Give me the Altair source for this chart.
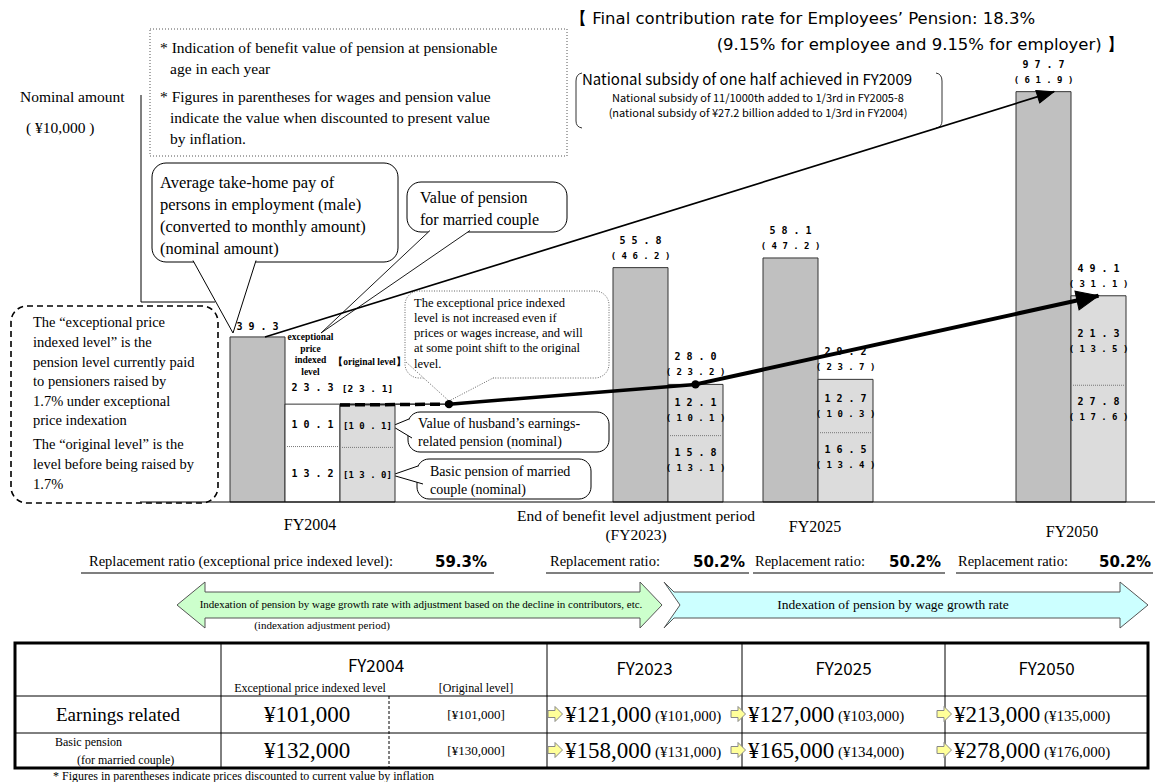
import math
import numpy as np
import altair as alt
import pandas as pd

# ---------------- data ----------------
years = [2004, 2023, 2025, 2050]
wage = [39.3, 55.8, 58.1, 97.7]            # average take-home pay (nominal, 10,000 yen)
wage_real = [None, 46.2, 47.2, 61.9]       # discounted to present value
pension = [23.3, 28.0, 29.2, 49.1]         # pension for married couple (2004 = exceptional price indexed level)
pension_real = [None, 23.2, 23.7, 31.1]
earn = [10.1, 12.1, 12.7, 21.3]            # husband's earnings-related pension
earn_real = [None, 10.1, 10.3, 13.5]
basic = [13.2, 15.8, 16.5, 27.8]           # basic pension of married couple
basic_real = [None, 13.1, 13.4, 17.6]
orig_total, orig_earn, orig_basic = 23.1, 10.1, 13.0   # FY2004 original level
ratios = [59.3, 50.2, 50.2, 50.2]
earn_yen = [101000, 121000, 127000, 213000]
earn_yen_real = [None, 101000, 103000, 135000]
basic_yen = [132000, 158000, 165000, 278000]
basic_yen_real = [None, 131000, 134000, 176000]
orig_earn_yen, orig_basic_yen = 101000, 130000

# ---------------- scales / style ----------------
X_RANGE = [230, 613, 763, 1016]
BASE_Y, TOP_Y = 502, 82
BW = 55
XS = alt.Scale(domain=years, range=X_RANGE, nice=False, zero=False)
YS = alt.Scale(domain=[0, 100], range=[BASE_Y, TOP_Y], nice=False, zero=False)
SERIF = "Liberation Serif"
GOTH = "Noto Sans CJK JP"
SANS = "DejaVu Sans"
MONO = "DejaVu Sans Mono"
WAGE_C, PEN_C, STROKE = "#c0c0c0", "#dcdcdc", "#333333"


def xq(f="year"):
    return alt.X(f"{f}:Q", scale=XS, axis=None)


def yq(f):
    return alt.Y(f"{f}:Q", scale=YS, axis=None)


def px_x(y):
    return float(np.interp(y, years, X_RANGE))


def px_y(v):
    return BASE_Y - (BASE_Y - TOP_Y) * v / 100.0


def sp(v):
    return " ".join(f"{v:.1f}")


def spp(v):
    return " ".join(f"({v:.1f})")


def yen(v):
    return "¥{:,}".format(v)


df = pd.DataFrame(dict(year=years, wage=wage, pension=pension, earn=earn, basic=basic))
df["wage_lab"] = [sp(v) for v in wage]
df["wage_rlab"] = ["" if v is None else spp(v) for v in wage_real]
df["pen_lab"] = [sp(v) for v in pension]
df["pen_rlab"] = ["" if v is None else spp(v) for v in pension_real]
df["earn_lab"] = [sp(v) for v in earn]
df["earn_rlab"] = ["" if v is None else spp(v) for v in earn_real]
df["basic_lab"] = [sp(v) for v in basic]
df["basic_rlab"] = ["" if v is None else spp(v) for v in basic_real]

dfo = pd.DataFrame(dict(year=[2004], total=[orig_total], earn=[orig_earn], basic=[orig_basic]))
dfo["tot_lab"] = ["[" + sp(orig_total) + "]"]
dfo["earn_lab"] = ["[" + sp(orig_earn) + "]"]
dfo["basic_lab"] = ["[" + sp(orig_basic) + "]"]

ONE = pd.DataFrame({"k": [0]})
layers = []


def T(x, y, s, size=14, font=SERIF, align="left", weight="normal", color="black", baseline="middle"):
    return alt.Chart(ONE).mark_text(text=s, fontSize=size, font=font, align=align, fontWeight=weight,
                                    color=color, baseline=baseline).encode(x=alt.value(x), y=alt.value(y))


def R(x, y, x2, y2, fill="white", stroke="black", sw=1.0, dash=None, r=0, fo=1.0):
    kw = dict(fill=fill, stroke=stroke, strokeWidth=sw, cornerRadius=r, fillOpacity=fo)
    if dash:
        kw["strokeDash"] = dash
    return alt.Chart(ONE).mark_rect(**kw).encode(x=alt.value(x), x2=alt.value(x2), y=alt.value(y), y2=alt.value(y2))


def S(x, y, x2, y2, sw=1.0, color="black", dash=None):
    kw = dict(color=color, strokeWidth=sw)
    if dash:
        kw["strokeDash"] = dash
    return alt.Chart(ONE).mark_rule(**kw).encode(x=alt.value(x), y=alt.value(y), x2=alt.value(x2), y2=alt.value(y2))


def SHAPE(path, fill="white", stroke="black", sw=1.0, dash=None, filled=True):
    kw = dict(shape=path, size=4, filled=filled, stroke=stroke, strokeWidth=sw, opacity=1,
              fill=fill if filled else "transparent")
    if dash:
        kw["strokeDash"] = dash
    return alt.Chart(ONE).mark_point(**kw).encode(x=alt.value(0), y=alt.value(0))


# ---------------- title / notes ----------------
layers += [
    T(570, 19, "【 Final contribution rate for Employees’ Pension: 18.3%", 16.5, SANS),
    T(1124, 45, "(9.15% for employee and 9.15% for employer) 】", 16.5, SANS, align="right"),
    R(150, 29, 567, 156, fill="white", stroke="#555", sw=1, dash=[1, 2]),
    T(160, 48, "* Indication of benefit value of pension at pensionable", 15.5),
    T(170, 69, "age in each year", 15.5),
    T(160, 97, "* Figures in parentheses for wages and pension value", 15.5),
    T(170, 118, "indicate the value when discounted to present value", 15.5),
    T(170, 139, "by inflation.", 15.5),
    T(20, 97, "Nominal amount", 15.5),
    T(26, 128, "( ¥10,000 )", 15.5),
    S(141, 95, 141, 302), S(141, 302, 215, 302),
    # national subsidy bracket
    SHAPE("M582,73 Q576,74 576,81 L576,121 Q576,127 582,128", filled=False, stroke="#333", sw=1),
    SHAPE("M936,73 Q942,74 942,81 L942,121 Q942,127 936,128", filled=False, stroke="#333", sw=1),
    T(582, 80, "National subsidy of one half achieved in FY2009", 15, GOTH),
    T(758, 99, "National subsidy of 11/1000th  added to 1/3rd  in FY2005-8", 11, GOTH, align="center"),
    T(758, 114, "(national subsidy of ¥27.2 billion added to 1/3rd  in FY2004)", 11, GOTH, align="center"),
]

# callout boxes
layers += [
    R(152, 163, 398, 262, r=14),
    SHAPE("M193,260.5 L233,333 L256,260.5"),
    T(160, 183, "Average   take-home   pay   of", 16.5),
    T(160, 205, "persons in employment (male)", 16.5),
    T(160, 227, "(converted to monthly amount)", 16.5),
    T(160, 249, "(nominal amount)", 16.5),
    R(407, 182, 567, 232, r=14),
    SHAPE("M430,230.5 L321,333 L470,230.5", sw=0.9),
    T(420, 198, "Value of pension", 16),
    T(420, 220, "for married couple", 16),
    R(11, 306, 218, 503, fill="white", stroke="black", sw=1.6, dash=[6, 4], r=16),
    T(33, 323, "The “exceptional price", 14.5),
    T(33, 343, "indexed level” is the", 14.5),
    T(33, 363, "pension level currently paid", 14.5),
    T(33, 382, "to pensioners raised by", 14.5),
    T(33, 402, "1.7% under exceptional", 14.5),
    T(33, 421, "price indexation", 14.5),
    T(33, 445, "The “original level” is the", 14.5),
    T(33, 465, "level before being raised by", 14.5),
    T(33, 485, "1.7%", 14.5),
    # dotted note about the exceptional level
    R(405, 291, 609, 378, fill="white", stroke="#666", sw=1, dash=[1, 1.5], r=14),
    SHAPE("M406,362 L449,401 L495,377", fill="white", stroke="#666", sw=1, dash=[1, 1.5]),
    T(414, 303, "The exceptional price indexed", 12.5),
    T(414, 318, "level is not increased even if", 12.5),
    T(414, 333, "prices or wages increase, and will", 12.5),
    T(414, 348, "at some point shift to the original", 12.5),
    T(414, 364, "level.", 12.5),
    # husband's earnings-related / basic pension callouts
    R(408, 412, 609, 452, r=12),
    SHAPE("M409,419 L392,426 L412,438"),
    T(418, 424, "Value of husband’s earnings-", 14),
    T(418, 442, "related pension (nominal)", 14),
    R(417, 459, 591, 499, r=12),
    SHAPE("M418,466 L392,475 L423,484"),
    T(430, 472, "Basic pension of married", 14),
    T(430, 490, "couple (nominal)", 14),
]

# ---------------- bars ----------------
zero = alt.datum(0)
layers += [
    alt.Chart(df).mark_bar(xOffset=0, x2Offset=BW, fill=WAGE_C, stroke=STROKE, strokeWidth=1)
    .encode(x=xq(), x2="year", y=yq("wage"), y2=zero),
    alt.Chart(df).transform_filter("datum.year == 2004")
    .mark_bar(xOffset=BW, x2Offset=2 * BW, fill="white", stroke=STROKE, strokeWidth=1)
    .encode(x=xq(), x2="year", y=yq("pension"), y2=zero),
    alt.Chart(df).transform_filter("datum.year != 2004")
    .mark_bar(xOffset=BW, x2Offset=2 * BW, fill=PEN_C, stroke=STROKE, strokeWidth=1)
    .encode(x=xq(), x2="year", y=yq("pension"), y2=zero),
    alt.Chart(dfo).mark_bar(xOffset=2 * BW, x2Offset=3 * BW, fill=PEN_C, stroke=STROKE, strokeWidth=1)
    .encode(x=xq(), x2="year", y=yq("total"), y2=zero),
    alt.Chart(df).mark_rule(xOffset=BW + 2, x2Offset=2 * BW - 2, color="#777", strokeWidth=1, strokeDash=[1, 1])
    .encode(x=xq(), x2="year", y=yq("basic")),
    alt.Chart(dfo).mark_rule(xOffset=2 * BW + 2, x2Offset=3 * BW - 2, color="#777", strokeWidth=1, strokeDash=[1, 1])
    .encode(x=xq(), x2="year", y=yq("basic")),
    S(140, BASE_Y, 1155, BASE_Y, sw=1.2),
]

# ---------------- trend lines (drawn under the labels) ----------------
P1 = 2 * BW + 109   # where the exceptional level meets the original level
W0, W1 = 35, 38
seg_w = pd.DataFrame(dict(x=[years[0]], x2=[years[3]], y=[wage[0]], y2=[wage[3]]))
seg_h = pd.DataFrame(dict(x=[years[0]], x2=[years[0]], y=[pension[0]], y2=[pension[0]]))
seg_d = pd.DataFrame(dict(x=[years[0]], x2=[years[0]], y=[orig_total], y2=[pension[0]]))
seg_t1 = pd.DataFrame(dict(x=[years[0]], x2=[years[1]], y=[pension[0]], y2=[pension[1]]))
seg_t2 = pd.DataFrame(dict(x=[years[1]], x2=[years[3]], y=[pension[1]], y2=[pension[3]]))


def seg(d, o1, o2, sw, dash=None):
    kw = dict(xOffset=o1, x2Offset=o2, strokeWidth=sw, color="black")
    if dash:
        kw["strokeDash"] = dash
    return alt.Chart(d).mark_rule(**kw).encode(x=xq("x"), x2="x2", y=yq("y"), y2="y2")


layers += [
    seg(seg_w, W0, W1, 1.7),
    seg(seg_h, 2 * BW, P1, 1.2),
    seg(seg_d, 2 * BW, P1, 3.5, dash=[10, 5]),
    seg(seg_t1, P1, 1.5 * BW, 3.5),
    seg(seg_t2, 1.5 * BW, 1.5 * BW, 4),
]
dot1 = pd.DataFrame(dict(year=[years[0]], v=[pension[0]]))
dot2 = pd.DataFrame(dict(year=[years[1]], v=[pension[1]]))
layers += [
    alt.Chart(dot1).mark_point(filled=True, size=70, color="black", opacity=1, xOffset=P1).encode(x=xq(), y=yq("v")),
    alt.Chart(dot2).mark_point(filled=True, size=70, color="black", opacity=1, xOffset=1.5 * BW).encode(x=xq(), y=yq("v")),
]


def angle(xa, ya, xb, yb):
    return math.degrees(math.atan2(yb - ya, xb - xa)) % 360


a_w = angle(px_x(years[0]) + W0, px_y(wage[0]), px_x(years[3]) + W1, px_y(wage[3]))
a_p = angle(px_x(years[1]) + 1.5 * BW, px_y(pension[1]), px_x(years[3]) + 1.5 * BW, px_y(pension[3]))
head_w = pd.DataFrame(dict(year=[years[3]], v=[wage[3]]))
head_p = pd.DataFrame(dict(year=[years[3]], v=[pension[3]]))
layers += [
    alt.Chart(head_w).mark_point(shape="M0,0 L-17,-6.5 L-17,6.5 Z", size=4, filled=True, fill="black",
                                 stroke="black", strokeWidth=1, opacity=1, angle=a_w, xOffset=W1)
    .encode(x=xq(), y=yq("v")),
    alt.Chart(head_p).mark_point(shape="M0,0 L-22,-9.5 L-22,9.5 Z", size=4, filled=True, fill="black",
                                 stroke="black", strokeWidth=1, opacity=1, angle=a_p, xOffset=1.5 * BW)
    .encode(x=xq(), y=yq("v")),
]


def lab(data, fy, ft, dx, dy, size=10, filt=None, calc=None, font=MONO, weight="bold"):
    ch = alt.Chart(data)
    if calc:
        ch = ch.transform_calculate(**calc)
    if filt:
        ch = ch.transform_filter(filt)
    return ch.mark_text(font=font, fontWeight=weight, fontSize=size, dx=dx, dy=dy, color="black",
                        baseline="middle", align="center").encode(x=xq(), y=yq(fy), text=f"{ft}:N")


F04 = "datum.year == 2004"
FNOT = "datum.year != 2004"
MID = {"emid": "datum.basic + datum.earn / 2", "bmid": "datum.basic / 2"}
layers += [
    lab(df, "wage", "wage_lab", BW / 2, -10, filt=F04),
    lab(df, "wage", "wage_lab", BW / 2, -27, filt=FNOT),
    lab(df, "wage", "wage_rlab", BW / 2, -12, size=9, filt=FNOT),
    lab(df, "pension", "pen_lab", 1.5 * BW, -27, filt=FNOT),
    lab(df, "pension", "pen_rlab", 1.5 * BW, -12, size=9, filt=FNOT),
    lab(df, "emid", "earn_lab", 1.5 * BW, -7, filt=FNOT, calc=MID),
    lab(df, "emid", "earn_rlab", 1.5 * BW, 8, size=9, filt=FNOT, calc=MID),
    lab(df, "basic", "basic_lab", 1.5 * BW, 17, filt=FNOT),
    lab(df, "basic", "basic_rlab", 1.5 * BW, 32, size=9, filt=FNOT),
    lab(df, "pension", "pen_lab", 1.5 * BW, -16, filt=F04),
    lab(df, "emid", "earn_lab", 1.5 * BW, 0, filt=F04, calc=MID),
    lab(df, "bmid", "basic_lab", 1.5 * BW, 0, filt=F04, calc=MID),
    lab(dfo, "total", "tot_lab", 2.5 * BW, -16, size=9.5),
    lab(dfo, "emid", "earn_lab", 2.5 * BW, 0, size=9, calc=MID),
    lab(dfo, "bmid", "basic_lab", 2.5 * BW, 0, size=9, calc=MID),
]
for i, w in enumerate(["exceptional", "price", "indexed", "level"]):
    layers.append(alt.Chart(df).transform_filter(F04).mark_text(
        text=w, font=SERIF, fontWeight="bold", fontSize=9.5, dx=1.5 * BW - 2, dy=-67 + 11.5 * i,
        align="center", baseline="middle", color="black").encode(x=xq(), y=yq("pension")))
layers.append(alt.Chart(dfo).mark_text(
    text="【original level】", font=SERIF, fontWeight="bold", fontSize=9.5, dx=2.5 * BW + 2, dy=-43,
    align="center", baseline="middle", color="black").encode(x=xq(), y=yq("total")))

# ---------------- x labels / replacement ratios / indexation arrows ----------------
layers += [
    T(310, 525, "FY2004", 16, align="center"),
    T(636, 516, "End of benefit level adjustment period", 15.5, align="center"),
    T(636, 535, "(FY2023)", 15.5, align="center"),
    T(815, 527, "FY2025", 16, align="center"),
    T(1072, 532, "FY2050", 16, align="center"),
]
rr = [(89, 487, "Replacement ratio (exceptional price indexed level):", 81, 494),
      (550, 745, "Replacement ratio:", 546, 749),
      (755, 941, "Replacement ratio:", 753, 945),
      (958, 1151, "Replacement ratio:", 956, 1153)]
for (x0, x1, s, u0, u1), r in zip(rr, ratios):
    layers += [T(x0, 562, s, 14.5),
               T(x1, 562, f"{r:.1f}%", 15, SANS, align="right", weight="bold"),
               S(u0, 573, u1, 573, sw=1.2)]

layers += [
    SHAPE("M177,605 L205,582 L205,592 L640,592 L640,582 L662,605 L640,628 L640,618 L205,618 L205,628 Z",
          fill="#ccffcc", stroke="#555", sw=1),
    SHAPE("M664,582 L674,592 L1120,592 L1120,582 L1148,605 L1120,628 L1120,618 L674,618 L664,628 L680,605 Z",
          fill="#ccffff", stroke="#555", sw=1),
    T(421, 605, "Indexation of pension by wage growth rate with adjustment based on the decline in contributors, etc.",
      11, align="center"),
    T(322, 626, "(indexation adjustment period)", 11, align="center"),
    T(893, 605, "Indexation of pension by wage growth rate", 13.5, align="center"),
]

# ---------------- table ----------------
cols = [15, 221, 547, 742, 945, 1148]
TT, TH, TR, TB = 643, 696, 733, 768
layers.append(R(cols[0], TT, cols[-1], TB, fill="white", sw=3))
for c in cols[1:-1]:
    layers.append(S(c, TT, c, TB))
layers += [S(cols[0], TH, cols[-1], TH), S(cols[0], TR, cols[-1], TR), S(389, TH, 389, TB, dash=[3, 2])]
layers += [
    T(376, 667, f"FY{years[0]}", 17, GOTH, align="center"),
    T(310, 688, "Exceptional price indexed level", 12, align="center"),
    T(476, 688, "[Original level]", 12, align="center"),
]
for i in range(1, 4):
    layers.append(T((cols[i + 1] + cols[i + 2]) / 2, 670, f"FY{years[i]}", 17, GOTH, align="center"))
ROW1, ROW2 = 715, 751
layers += [
    T(118, ROW1, "Earnings related", 19, align="center"),
    T(55, 742, "Basic pension", 12),
    T(77, 760, "(for married couple)", 12),
    T(307, ROW1, yen(earn_yen[0]), 23, align="center"),
    T(476, ROW1, "[" + yen(orig_earn_yen) + "]", 13, align="center"),
    T(307, ROW2, yen(basic_yen[0]), 23, align="center"),
    T(476, ROW2, "[" + yen(orig_basic_yen) + "]", 13, align="center"),
]
arrow_cx = [555, 738, 944]
big_x = [565, 748, 954]


def block_arrow(cx, cy):
    return (f"M{cx-7},{cy-3.5} L{cx},{cy-3.5} L{cx},{cy-7.5} L{cx+7.5},{cy} L{cx},{cy+7.5} "
            f"L{cx},{cy+3.5} L{cx-7},{cy+3.5} Z")


for j in range(3):
    i = j + 1
    for cy, big, small in [(ROW1, earn_yen[i], earn_yen_real[i]), (ROW2, basic_yen[i], basic_yen_real[i])]:
        layers += [
            SHAPE(block_arrow(arrow_cx[j], cy - 1), fill="#ffff99", stroke="#888", sw=1),
            T(big_x[j], cy, yen(big), 23),
            T(big_x[j] + 90, cy + 1, "(" + yen(small) + ")", 15),
        ]
layers.append(T(53, 776, "* Figures in parentheses indicate prices discounted to current value by inflation", 12))

chart = alt.layer(*layers).properties(
    width=1157, height=782, autosize=alt.AutoSizeParams(type="none"), padding=0,
    background="white"
).configure_view(stroke=None)

chart.save("out.html", embed_options={"renderer": "svg", "actions": False})
